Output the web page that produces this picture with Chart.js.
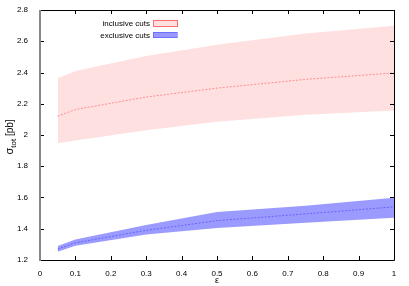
<!DOCTYPE html>
<html>
<head>
<meta charset="utf-8">
<script src="https://cdn.jsdelivr.net/npm/chart.js@4/dist/chart.umd.min.js"></script>
<style>
  html, body { margin: 0; padding: 0; background: #fff; }
  #wrap { width: 409px; height: 286px; }
</style>
</head>
<body>
<div id="wrap"><canvas id="c"></canvas></div>
<script>
// data
const eps = [0.05, 0.1, 0.3, 0.5, 0.75, 1.0]
const inclCentral = [2.12, 2.163, 2.243, 2.30, 2.356, 2.397]
const inclUpper = [2.363, 2.41, 2.506, 2.578, 2.65, 2.70]
const inclLower = [1.947, 1.965, 2.03, 2.085, 2.13, 2.157]
const exclCentral = [1.27, 1.31, 1.39, 1.452, 1.495, 1.54]
const exclUpper = [1.29, 1.332, 1.424, 1.508, 1.548, 1.598]
const exclLower = [1.253, 1.292, 1.364, 1.405, 1.438, 1.471]
const xTicks = [0, 0.1, 0.2, 0.3, 0.4, 0.5, 0.6, 0.7, 0.8, 0.9, 1]
const yTicks = [1.2, 1.4, 1.6, 1.8, 2, 2.2, 2.4, 2.6, 2.8]
const legendLabels = ['inclusive cuts', 'exclusive cuts']

const FONT = 'Liberation Sans, Arial, sans-serif'
const pts = arr => arr.map((v, i) => ({ x: eps[i], y: v }))

const frame = {
    id: 'frame',
    afterDraw(chart) {
        const ctx = chart.ctx
        const a = chart.chartArea
        const xs = chart.scales.x
        const ys = chart.scales.y
        ctx.save()
        // inside ticks, mirrored
        ctx.strokeStyle = '#000'
        ctx.lineWidth = 1
        ctx.beginPath()
        xTicks.forEach(t => {
            const px = Math.round(xs.getPixelForValue(t)) + 0.5
            ctx.moveTo(px, a.bottom); ctx.lineTo(px, a.bottom - 4)
            ctx.moveTo(px, a.top); ctx.lineTo(px, a.top + 4)
        })
        yTicks.forEach(t => {
            const py = Math.round(ys.getPixelForValue(t)) + 0.5
            ctx.moveTo(a.left, py); ctx.lineTo(a.left + 4, py)
            ctx.moveTo(a.right, py); ctx.lineTo(a.right - 4, py)
        })
        ctx.stroke()
        // border
        ctx.beginPath()
        ctx.moveTo(a.left, a.top + 0.5); ctx.lineTo(a.right + 0.5, a.top + 0.5)
        ctx.lineTo(a.right + 0.5, a.bottom + 0.5); ctx.lineTo(a.left, a.bottom + 0.5)
        ctx.stroke()
        ctx.strokeStyle = '#888'
        ctx.lineWidth = 2
        ctx.beginPath()
        ctx.moveTo(a.left, a.top); ctx.lineTo(a.left, a.bottom + 1)
        ctx.stroke()

        // legend
        ctx.font = '8px ' + FONT
        ctx.fillStyle = '#000'
        ctx.textAlign = 'right'
        ctx.textBaseline = 'middle'
        ctx.fillText(legendLabels[0], 150, 23.5)
        ctx.fillText(legendLabels[1], 150, 35.5)
        ctx.fillStyle = '#ffe0e0'
        ctx.fillRect(153, 21, 24, 5)
        ctx.strokeStyle = '#ff7070'
        ctx.lineWidth = 1
        ctx.strokeRect(153.5, 20.5, 24, 6)
        ctx.fillStyle = '#9898ff'
        ctx.fillRect(153, 32, 24, 6)
        ctx.strokeStyle = '#4848ff'
        ctx.setLineDash([1, 1])
        ctx.strokeRect(153.5, 32.5, 24, 5)
        ctx.setLineDash([])

        // axis titles
        ctx.fillStyle = '#000'
        ctx.textAlign = 'center'
        ctx.textBaseline = 'alphabetic'
        ctx.font = '9px ' + FONT
        ctx.fillText('ε', (a.left + a.right) / 2, 283)
        ctx.translate(13, 137)
        ctx.rotate(-Math.PI / 2)
        ctx.textAlign = 'left'
        ctx.font = '11px ' + FONT
        const w1 = ctx.measureText('σ').width
        ctx.font = '8px ' + FONT
        const w2 = ctx.measureText('tot').width
        ctx.font = '10px ' + FONT
        const w3 = ctx.measureText(' [pb]').width
        let x0 = -(w1 + w2 + w3) / 2
        ctx.font = '11px ' + FONT
        ctx.fillText('σ', x0, 0)
        ctx.font = '8px ' + FONT
        ctx.fillText('tot', x0 + w1, 3)
        ctx.font = '10px ' + FONT
        ctx.fillText(' [pb]', x0 + w1 + w2, 0)
        ctx.restore()
    }
}

const chart = new Chart(document.getElementById('c'), {
    type: 'line',
    data: {
        datasets: [
            { data: pts(inclUpper), order: 2, borderWidth: 0, pointRadius: 0, backgroundColor: '#ffe0e0', fill: '+1', tension: 0 },
            { data: pts(inclLower), order: 2, borderWidth: 0, pointRadius: 0, fill: false, tension: 0 },
            { data: pts(inclCentral), order: 0, borderColor: '#ff7878', borderWidth: 0.8, borderDash: [2, 1.5], pointRadius: 0, fill: false, tension: 0 },
            { data: pts(exclUpper), order: 2, borderWidth: 0, pointRadius: 0, backgroundColor: '#9a9aff', fill: '+1', tension: 0 },
            { data: pts(exclLower), order: 2, borderWidth: 0, pointRadius: 0, fill: false, tension: 0 },
            { data: pts(exclCentral), order: 0, borderColor: '#5a5af5', borderWidth: 0.8, borderDash: [2, 1.5], pointRadius: 0, fill: false, tension: 0 }
        ]
    },
    options: {
        responsive: true,
        maintainAspectRatio: false,
        animation: false,
        layout: { padding: { top: 10, right: 15, left: 0, bottom: 0 } },
        plugins: { legend: { display: false }, tooltip: { enabled: false } },
        scales: {
            x: {
                type: 'linear', min: 0, max: 1,
                grid: { display: false }, border: { display: false },
                afterBuildTicks: s => { s.ticks = xTicks.map(v => ({ value: v })) },
                afterFit: s => { s.height = 26 },
                ticks: { color: '#000', font: { size: 8, family: FONT }, padding: 1, maxRotation: 0,
                    callback: v => String(+v.toFixed(1)) }
            },
            y: {
                type: 'linear', min: 1.2, max: 2.8,
                grid: { display: false }, border: { display: false },
                afterBuildTicks: s => { s.ticks = yTicks.map(v => ({ value: v })) },
                afterFit: s => { s.width = 40 },
                ticks: { color: '#000', font: { size: 8, family: FONT }, padding: 4,
                    callback: v => String(+v.toFixed(1)) }
            }
        }
    },
    plugins: [frame]
})
</script>
</body>
</html>
